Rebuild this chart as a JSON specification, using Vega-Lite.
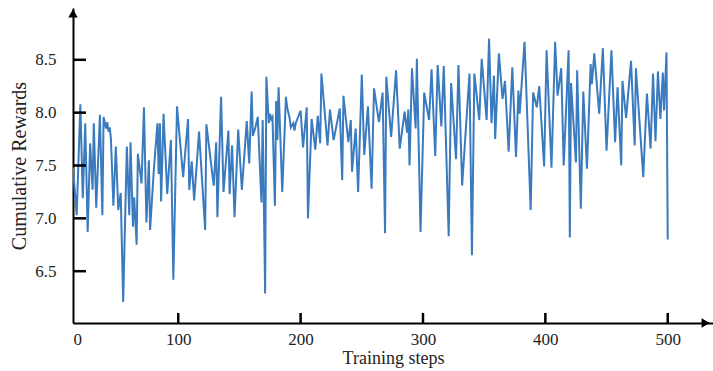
{
  "$schema": "https://vega.github.io/schema/vega-lite/v6.json",
  "width": 640,
  "height": 315,
  "autosize": {"type": "none"},
  "padding": {"left": 73, "top": 8, "right": 0, "bottom": 48},
  "background": "white",
  "config": {
    "view": {"stroke": null},
    "font": "Liberation Serif",
    "axis": {
      "domainColor": "black",
      "domainWidth": 2,
      "ticks": false,
      "labelColor": "#222",
      "titleColor": "#222",
      "labelFont": "Liberation Serif",
      "titleFont": "Liberation Serif",
      "labelFontSize": 17,
      "titleFontSize": 18,
      "titleFontWeight": "normal",
      "grid": false
    }
  },
  "datasets": {
    "rewards": [
      {"step": 14, "reward": 7.48}, {"step": 17, "reward": 7.03}, {"step": 20, "reward": 8.08}, {"step": 22, "reward": 7.19},
      {"step": 24, "reward": 7.90}, {"step": 26, "reward": 6.87}, {"step": 28, "reward": 7.71}, {"step": 30, "reward": 7.27},
      {"step": 31, "reward": 7.90}, {"step": 33, "reward": 7.10}, {"step": 36, "reward": 7.98}, {"step": 38, "reward": 7.03},
      {"step": 39, "reward": 7.96}, {"step": 41, "reward": 7.85}, {"step": 42, "reward": 7.91}, {"step": 43, "reward": 7.82},
      {"step": 44, "reward": 7.86}, {"step": 45, "reward": 7.75}, {"step": 47, "reward": 7.12}, {"step": 49, "reward": 7.68},
      {"step": 51, "reward": 7.08}, {"step": 53, "reward": 7.24}, {"step": 55, "reward": 6.21}, {"step": 58, "reward": 7.68},
      {"step": 60, "reward": 7.03}, {"step": 61, "reward": 7.72}, {"step": 63, "reward": 6.92}, {"step": 64, "reward": 7.20},
      {"step": 66, "reward": 6.75}, {"step": 67, "reward": 7.61}, {"step": 70, "reward": 7.33}, {"step": 72, "reward": 8.05},
      {"step": 74, "reward": 6.96}, {"step": 76, "reward": 7.55}, {"step": 77, "reward": 6.89}, {"step": 80, "reward": 7.45},
      {"step": 83, "reward": 7.90}, {"step": 84, "reward": 7.42}, {"step": 85, "reward": 7.90}, {"step": 86, "reward": 7.16},
      {"step": 88, "reward": 7.99}, {"step": 91, "reward": 7.23}, {"step": 94, "reward": 7.74}, {"step": 96, "reward": 6.42},
      {"step": 99, "reward": 8.06}, {"step": 104, "reward": 7.39}, {"step": 108, "reward": 7.94}, {"step": 109, "reward": 7.27},
      {"step": 111, "reward": 7.54}, {"step": 113, "reward": 7.17}, {"step": 117, "reward": 7.82}, {"step": 122, "reward": 6.89},
      {"step": 123, "reward": 7.89}, {"step": 129, "reward": 7.31}, {"step": 131, "reward": 7.72}, {"step": 132, "reward": 7.01},
      {"step": 135, "reward": 8.15}, {"step": 137, "reward": 7.25}, {"step": 141, "reward": 7.83}, {"step": 142, "reward": 7.23},
      {"step": 144, "reward": 7.69}, {"step": 146, "reward": 7.01}, {"step": 149, "reward": 7.84}, {"step": 152, "reward": 7.27},
      {"step": 156, "reward": 7.92}, {"step": 158, "reward": 7.52}, {"step": 160, "reward": 8.20}, {"step": 161, "reward": 7.78},
      {"step": 163, "reward": 7.86}, {"step": 165, "reward": 7.96}, {"step": 168, "reward": 7.15}, {"step": 169, "reward": 7.93},
      {"step": 171, "reward": 6.29}, {"step": 172, "reward": 8.34}, {"step": 174, "reward": 7.90}, {"step": 175, "reward": 7.99},
      {"step": 176, "reward": 7.94}, {"step": 177, "reward": 7.96}, {"step": 179, "reward": 7.12}, {"step": 180, "reward": 8.11},
      {"step": 181, "reward": 7.74}, {"step": 182, "reward": 8.24}, {"step": 185, "reward": 7.25}, {"step": 188, "reward": 8.15},
      {"step": 189, "reward": 8.05}, {"step": 191, "reward": 7.95}, {"step": 192, "reward": 7.86}, {"step": 194, "reward": 7.90},
      {"step": 195, "reward": 7.83}, {"step": 196, "reward": 7.90}, {"step": 200, "reward": 8.02}, {"step": 202, "reward": 7.67},
      {"step": 205, "reward": 8.05}, {"step": 206, "reward": 7.00}, {"step": 209, "reward": 7.94}, {"step": 212, "reward": 7.65},
      {"step": 214, "reward": 7.97}, {"step": 216, "reward": 7.71}, {"step": 217, "reward": 8.37}, {"step": 222, "reward": 7.69},
      {"step": 224, "reward": 8.03}, {"step": 227, "reward": 7.74}, {"step": 232, "reward": 8.04}, {"step": 234, "reward": 7.36},
      {"step": 235, "reward": 8.16}, {"step": 239, "reward": 7.72}, {"step": 241, "reward": 7.93}, {"step": 242, "reward": 7.44},
      {"step": 245, "reward": 7.85}, {"step": 247, "reward": 7.25}, {"step": 250, "reward": 8.36}, {"step": 252, "reward": 7.60},
      {"step": 255, "reward": 8.06}, {"step": 258, "reward": 7.28}, {"step": 260, "reward": 8.23}, {"step": 264, "reward": 7.91},
      {"step": 267, "reward": 8.19}, {"step": 269, "reward": 6.86}, {"step": 270, "reward": 8.34}, {"step": 274, "reward": 7.77},
      {"step": 278, "reward": 8.40}, {"step": 281, "reward": 7.66}, {"step": 285, "reward": 8.01}, {"step": 287, "reward": 7.81},
      {"step": 288, "reward": 8.03}, {"step": 289, "reward": 7.50}, {"step": 291, "reward": 8.42}, {"step": 294, "reward": 7.85},
      {"step": 295, "reward": 8.51}, {"step": 298, "reward": 6.87}, {"step": 301, "reward": 8.19}, {"step": 305, "reward": 7.93},
      {"step": 307, "reward": 8.41}, {"step": 310, "reward": 7.59}, {"step": 312, "reward": 8.45}, {"step": 315, "reward": 7.87},
      {"step": 317, "reward": 8.44}, {"step": 321, "reward": 6.83}, {"step": 323, "reward": 8.28}, {"step": 327, "reward": 7.56},
      {"step": 329, "reward": 8.45}, {"step": 332, "reward": 7.31}, {"step": 338, "reward": 8.37}, {"step": 340, "reward": 6.65},
      {"step": 342, "reward": 8.37}, {"step": 346, "reward": 7.93}, {"step": 348, "reward": 8.51}, {"step": 352, "reward": 7.93},
      {"step": 354, "reward": 8.70}, {"step": 356, "reward": 7.90}, {"step": 358, "reward": 8.35}, {"step": 359, "reward": 7.75},
      {"step": 362, "reward": 8.56}, {"step": 365, "reward": 8.13}, {"step": 367, "reward": 8.30}, {"step": 370, "reward": 7.63},
      {"step": 373, "reward": 8.43}, {"step": 376, "reward": 7.58}, {"step": 378, "reward": 8.21}, {"step": 379, "reward": 7.99},
      {"step": 383, "reward": 8.67}, {"step": 388, "reward": 7.08}, {"step": 390, "reward": 8.19}, {"step": 393, "reward": 8.05},
      {"step": 395, "reward": 8.25}, {"step": 399, "reward": 7.49}, {"step": 401, "reward": 8.59}, {"step": 405, "reward": 7.48},
      {"step": 408, "reward": 8.67}, {"step": 410, "reward": 8.16}, {"step": 413, "reward": 8.42}, {"step": 415, "reward": 7.50},
      {"step": 419, "reward": 8.59}, {"step": 420, "reward": 6.82}, {"step": 421, "reward": 8.28}, {"step": 425, "reward": 7.53},
      {"step": 426, "reward": 8.40}, {"step": 429, "reward": 7.09}, {"step": 431, "reward": 8.20}, {"step": 434, "reward": 7.47},
      {"step": 437, "reward": 8.46}, {"step": 438, "reward": 8.27}, {"step": 440, "reward": 8.56}, {"step": 444, "reward": 7.99},
      {"step": 447, "reward": 8.61}, {"step": 450, "reward": 7.64}, {"step": 454, "reward": 8.59}, {"step": 457, "reward": 7.72},
      {"step": 459, "reward": 8.24}, {"step": 462, "reward": 7.50}, {"step": 463, "reward": 8.30}, {"step": 466, "reward": 7.95},
      {"step": 470, "reward": 8.49}, {"step": 473, "reward": 7.69}, {"step": 474, "reward": 8.42}, {"step": 480, "reward": 7.39},
      {"step": 483, "reward": 8.18}, {"step": 486, "reward": 7.66}, {"step": 488, "reward": 8.37}, {"step": 490, "reward": 7.73},
      {"step": 492, "reward": 8.39}, {"step": 494, "reward": 7.94}, {"step": 496, "reward": 8.38}, {"step": 497, "reward": 8.02},
      {"step": 499, "reward": 8.57}, {"step": 500, "reward": 6.80}
    ],
    "yticks": [{"v": 6.5}, {"v": 7.0}, {"v": 7.5}, {"v": 8.0}, {"v": 8.5}],
    "xticks": [{"s": 100}, {"s": 200}, {"s": 300}, {"s": 400}, {"s": 500}]
  },
  "layer": [
    {
      "data": {"name": "rewards"},
      "mark": {"type": "line", "color": "#3a7abf", "strokeWidth": 2, "clip": true},
      "encoding": {
        "x": {
          "field": "step",
          "type": "quantitative",
          "scale": {"domain": [14, 537], "nice": false, "zero": false},
          "axis": {
            "title": "Training steps",
            "values": [14, 100, 200, 300, 400, 500],
            "labelExpr": "datum.value < 50 ? '0' : datum.label",
            "labelPadding": 8,
            "titlePadding": 2
          }
        },
        "y": {
          "field": "reward",
          "type": "quantitative",
          "scale": {"domain": [6.01, 8.99], "nice": false, "zero": false},
          "axis": {
            "title": "Cumulative Rewards",
            "titleFontSize": 20,
            "values": [6.5, 7, 7.5, 8, 8.5],
            "format": ".1f",
            "labelPadding": 17,
            "titlePadding": 5
          }
        }
      }
    },
    {
      "data": {"name": "yticks"},
      "mark": {"type": "rule", "color": "black", "strokeWidth": 2.5},
      "encoding": {
        "x": {"datum": 14, "type": "quantitative"},
        "x2": {"datum": 24.6},
        "y": {"field": "v", "type": "quantitative"}
      }
    },
    {
      "data": {"name": "xticks"},
      "mark": {"type": "rule", "color": "black", "strokeWidth": 2.5},
      "encoding": {
        "x": {"field": "s", "type": "quantitative"},
        "y": {"datum": 6.01, "type": "quantitative"},
        "y2": {"datum": 6.105}
      }
    },
    {
      "data": {"values": [{}]},
      "mark": {"type": "point", "shape": "triangle-right", "filled": true, "color": "black", "opacity": 1, "size": 90, "clip": false},
      "encoding": {"x": {"datum": 531, "type": "quantitative"}, "y": {"datum": 6.01, "type": "quantitative"}}
    },
    {
      "data": {"values": [{}]},
      "mark": {"type": "point", "shape": "triangle-up", "filled": true, "color": "black", "opacity": 1, "size": 90, "clip": false},
      "encoding": {"x": {"datum": 14, "type": "quantitative"}, "y": {"datum": 8.94, "type": "quantitative"}}
    }
  ]
}
